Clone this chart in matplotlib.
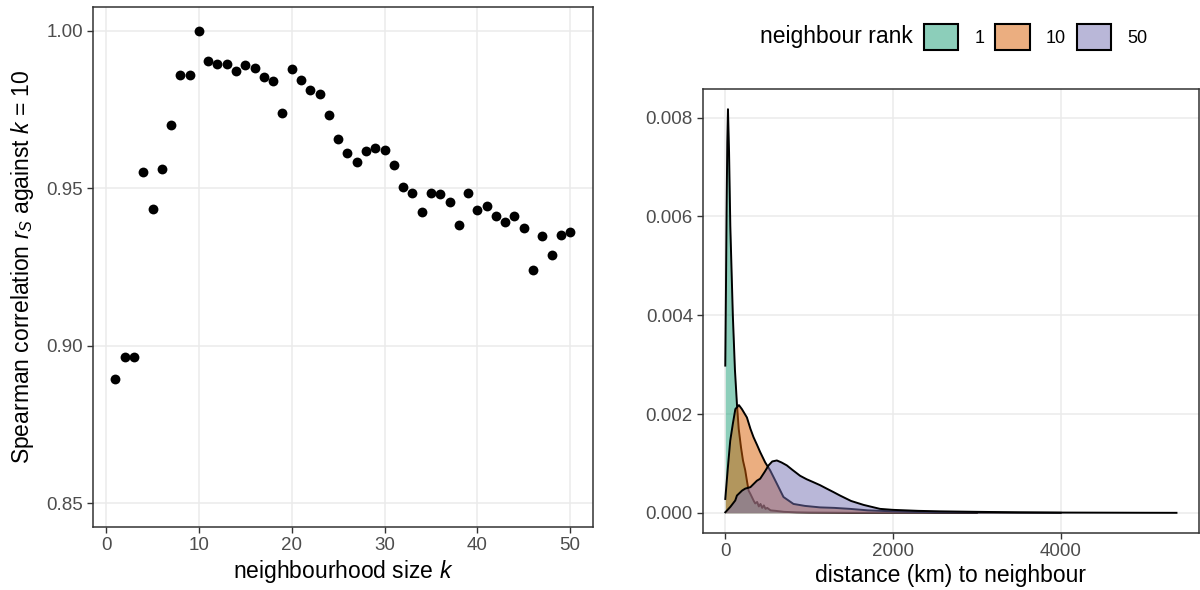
import matplotlib
matplotlib.use("Agg")
import matplotlib.pyplot as plt
from matplotlib.patches import Patch
from matplotlib.colors import to_rgba

plt.rcParams['font.family'] = ['Liberation Sans', 'DejaVu Sans']
plt.rcParams['mathtext.fontset'] = 'custom'
plt.rcParams['mathtext.rm'] = 'Liberation Sans'
plt.rcParams['mathtext.it'] = 'Liberation Sans:italic'

# left panel: Spearman correlation vs neighbourhood size
k_values = list(range(1, 51))
spearman_r = [0.8896, 0.8965, 0.8965, 0.9552, 0.9433, 0.9560, 0.9700, 0.9858, 0.9858, 1.0000,
              0.9902, 0.9893, 0.9893, 0.9871, 0.9890, 0.9880, 0.9852, 0.9839, 0.9737, 0.9877,
              0.9843, 0.9813, 0.9799, 0.9733, 0.9656, 0.9612, 0.9584, 0.9617, 0.9628, 0.9621,
              0.9574, 0.9504, 0.9486, 0.9424, 0.9485, 0.9480, 0.9455, 0.9383, 0.9486, 0.9431,
              0.9442, 0.9411, 0.9392, 0.9411, 0.9374, 0.9241, 0.9347, 0.9288, 0.9351, 0.9362]

# right panel: density of distance to the n-th neighbour
ranks = ['1', '10', '50']
rank_colors = ['#1B9E77', '#D95F02', '#7570B3']

dist_r1 = [0, 8, 15, 24, 32, 45, 60, 90, 115, 139, 160, 187, 211, 238, 258, 278, 300, 317,
           340, 357, 380, 400, 420, 440, 460, 480, 500, 540, 600, 700, 850, 1000, 1500, 2000, 3000]
dens_r1 = [0.00298, 0.0045, 0.0060, 0.0075, 0.00817, 0.0073, 0.0058, 0.0040, 0.0029, 0.0022,
           0.0017, 0.00133, 0.00106, 0.00086, 0.00065, 0.00045, 0.00038, 0.00032, 0.00024, 0.00019,
           0.00022, 0.00013, 0.00018, 0.00010, 0.00015, 0.00008, 0.00010, 0.00005, 0.00004, 0.00002,
           0.00001, 0.000005, 0.0, 0.0, 0.0]

dist_r10 = [0, 30, 59, 90, 120, 163, 198, 258, 300, 337, 380, 416, 476, 535, 615, 694, 813,
            950, 1130, 1300, 1487, 1700, 2000, 2500, 3000, 4000]
dens_r10 = [0.00028, 0.0009, 0.00146, 0.0018, 0.0021, 0.00218, 0.0021, 0.00193, 0.0017, 0.00153,
            0.00137, 0.00123, 0.00102, 0.00086, 0.00059, 0.00032, 0.00018, 0.00014, 0.00011, 0.00010,
            0.00008, 0.00005, 0.00003, 0.00001, 0.000005, 0.0]

dist_r50 = [0, 60, 119, 139, 200, 238, 300, 377, 416, 470, 516, 560, 615, 670, 734, 800, 892,
            970, 1051, 1130, 1209, 1290, 1368, 1500, 1650, 1845, 2000, 2300, 2560, 3000, 3500,
            4000, 4500, 5000, 5380]
dens_r50 = [0.00001, 0.00012, 0.00025, 0.00035, 0.00045, 0.00049, 0.00052, 0.00065, 0.00069,
            0.00083, 0.00096, 0.00104, 0.00106, 0.00102, 0.00096, 0.00087, 0.00075, 0.00068,
            0.00062, 0.00056, 0.00049, 0.00042, 0.00035, 0.00024, 0.00016, 0.00008, 0.00006,
            0.00004, 0.00003, 0.00002, 0.00001, 0.000005, 0.000003, 0.000001, 0.0]

dists = [dist_r1, dist_r10, dist_r50]
denss = [dens_r1, dens_r10, dens_r50]

border = '#333333'
grid = '#EBEBEB'
tick_col = '#4D4D4D'

fig = plt.figure(figsize=(12, 5.9), dpi=100)
ax1 = fig.add_axes([0.0772, 0.1068, 0.4169, 0.8814])
ax2 = fig.add_axes([0.5856, 0.0966, 0.4136, 0.7525])


def style(ax):
    ax.set_facecolor('white')
    ax.grid(True, color=grid, lw=1.1, zorder=0)
    ax.set_axisbelow(True)
    for s in ax.spines.values():
        s.set_color(border)
        s.set_linewidth(1.1)
        s.set_zorder(10)
    ax.tick_params(colors=border, labelcolor=tick_col, labelsize=13.5,
                   length=4, width=1.0, pad=3)


# left panel
ax1.scatter(k_values, spearman_r, s=50, color='black', lw=0, zorder=3)
ax1.set_xlim(1 - 0.05 * 49, 50 + 0.05 * 49)
ax1.set_ylim(0.85 - 0.0075, 1.0 + 0.0075)
ax1.set_xticks([0, 10, 20, 30, 40, 50])
ax1.set_yticks([0.85, 0.90, 0.95, 1.00])
ax1.set_yticklabels(['0.85', '0.90', '0.95', '1.00'])
style(ax1)
ax1.set_xlabel('neighbourhood size $k$', fontsize=16.5, labelpad=3)
ax1.set_ylabel('Spearman correlation $r_S$ against $k$ = 10', fontsize=16.5, labelpad=7)

# right panel
for i in range(len(ranks)):
    ax2.fill_between(dists[i], 0, denss[i], color=rank_colors[i], alpha=0.5, lw=0, zorder=2 + 2 * i)
    ax2.plot(dists[i], denss[i], color='black', lw=1.4, zorder=3 + 2 * i)

xmax = max(max(d) for d in dists)
ymax = max(max(d) for d in denss)
ax2.set_xlim(-0.05 * xmax, xmax * 1.05)
ax2.set_ylim(-0.05 * ymax, ymax * 1.05)
ax2.set_xticks([0, 2000, 4000])
ax2.set_yticks([0.000, 0.002, 0.004, 0.006, 0.008])
ax2.set_yticklabels(['0.000', '0.002', '0.004', '0.006', '0.008'])
style(ax2)
ax2.set_xlabel('distance (km) to neighbour', fontsize=16.5, labelpad=3)

# legend on top
handles = [Patch(facecolor=to_rgba(c, 0.5), edgecolor='black', lw=1.5) for c in rank_colors]
fig.text(913 / 1200, 1 - 37 / 590, 'neighbour rank', fontsize=16.5, ha='right', va='center')
fig.legend(handles, ranks, loc='center left', bbox_to_anchor=(924 / 1200, 1 - 37 / 590),
           ncol=3, frameon=False, fontsize=13, handlelength=1.9, handleheight=1.9,
           handletextpad=0.9, columnspacing=0.6, borderpad=0, borderaxespad=0)

fig.savefig('out.png', dpi=100)
